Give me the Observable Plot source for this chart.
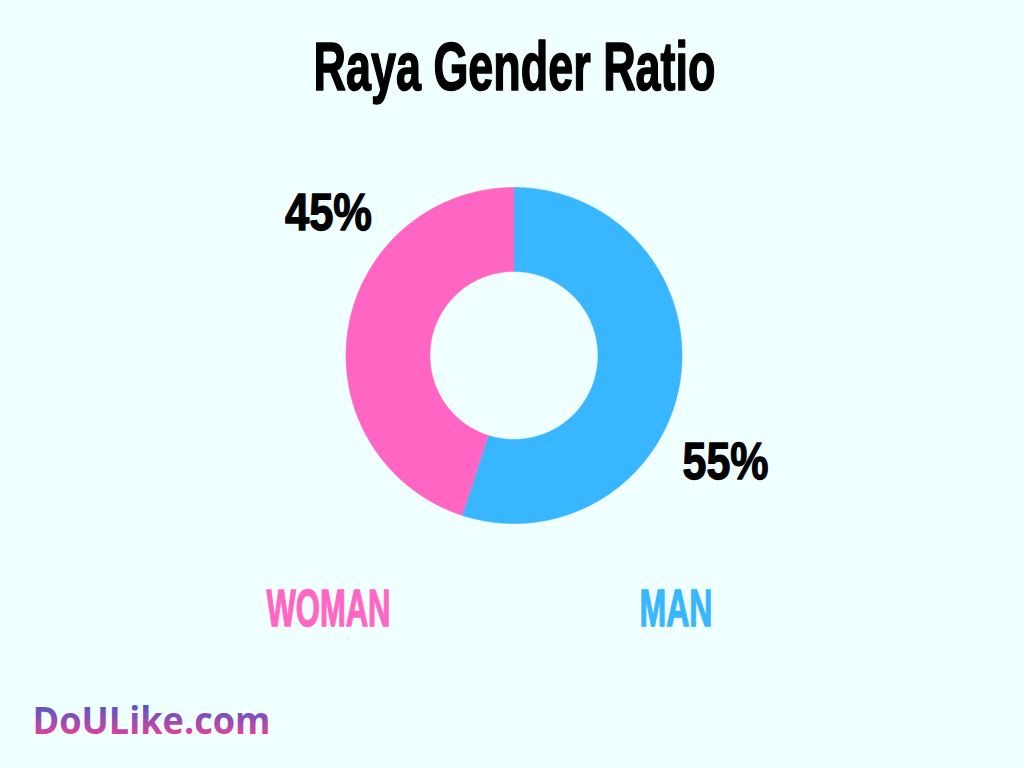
<!DOCTYPE html>
<html>
<head>
<meta charset="utf-8">
<script src="https://cdn.jsdelivr.net/npm/d3@7"></script>
<script src="https://cdn.jsdelivr.net/npm/@observablehq/plot@0.6"></script>
<style>
  html, body { margin: 0; padding: 0; background: #F0FFFF; }
  #chart { width: 1024px; height: 768px; }
</style>
</head>
<body>
<div id="chart"></div>
<script>
// ---- data ----
const categories = ["MAN", "WOMAN"];
const shares = [55, 45];
const shareLabels = ["55%", "45%"];
const colors = ["#38B6FF", "#FF66C4"];
const title = "Raya Gender Ratio";
const brand = "DoULike.com";

// ---- geometry (pixels in an identity-like scale) ----
const cx = 513.5, cy = 355, rOuter = 168, rInner = 84;

const pie = d3.pie().sort(null).value(d => d.value);
const arcs = pie(categories.map((c, i) => ({cat: c, value: shares[i]})));

// build each ring slice as a closed polygon following the pie angles
const pts = [];
for (const a of arcs) {
  const n = Math.max(8, Math.ceil((a.endAngle - a.startAngle) / 0.01));
  for (let k = 0; k <= n; k++) {
    const t = a.startAngle + (a.endAngle - a.startAngle) * k / n;
    pts.push({cat: a.data.cat, x: cx + Math.sin(t) * rOuter, y: cy - Math.cos(t) * rOuter});
  }
  for (let k = n; k >= 0; k--) {
    const t = a.startAngle + (a.endAngle - a.startAngle) * k / n;
    pts.push({cat: a.data.cat, x: cx + Math.sin(t) * rInner, y: cy - Math.cos(t) * rInner});
  }
}

const heavy = "'Liberation Sans', 'DejaVu Sans', Arial, sans-serif";

const chart = Plot.plot({
  width: 1024,
  height: 768,
  margin: 0,
  x: {domain: [0, 1024], range: [0, 1024], axis: null},
  y: {domain: [0, 768], range: [0, 768], axis: null},
  color: {domain: categories, range: colors},
  style: {background: "#F0FFFF", overflow: "visible"},
  marks: [
    Plot.line(pts, {x: "x", y: "y", z: "cat", fill: "cat", stroke: "cat", strokeWidth: 0.6, curve: "linear-closed"}),
    Plot.text([title], {x: 514, y: 67, text: d => d, fontSize: 69, fontWeight: "bold", fontFamily: heavy, fill: "#000", stroke: "#000", strokeWidth: 1.6}),
    Plot.text([shareLabels[1]], {x: 328, y: 213, text: d => d, fontSize: 51, fontWeight: "bold", fontFamily: heavy, fill: "#000", stroke: "#000", strokeWidth: 1.3}),
    Plot.text([shareLabels[0]], {x: 725, y: 462, text: d => d, fontSize: 51, fontWeight: "bold", fontFamily: heavy, fill: "#000", stroke: "#000", strokeWidth: 1.3}),
    Plot.text([categories[1]], {x: 328, y: 609, text: d => d, fontSize: 52, fontWeight: "bold", fontFamily: heavy, fill: colors[1], stroke: colors[1], strokeWidth: 1.3}),
    Plot.text([categories[0]], {x: 675.5, y: 609, text: d => d, fontSize: 52, fontWeight: "bold", fontFamily: heavy, fill: colors[0], stroke: colors[0], strokeWidth: 1.3}),
    Plot.text([brand], {x: 32, y: 721, text: d => d, textAnchor: "start", fontSize: 38, fontWeight: "bold", fontFamily: "'Open Sans', 'Noto Sans', sans-serif", fill: "#3B5BCF"})
  ]
});

// condensed look: fit each label to the width seen in the reference
const widths = {"Raya Gender Ratio": 402, "45%": 87, "55%": 86, "WOMAN": 124, "MAN": 73, "DoULike.com": 238};
const svg = d3.select(chart);
svg.selectAll("text").each(function() {
  const t = this.textContent;
  if (widths[t]) {
    this.setAttribute("textLength", widths[t]);
    this.setAttribute("lengthAdjust", "spacingAndGlyphs");
  }
});

// gradient for the brand mark
const defs = svg.insert("defs", ":first-child");
const g = defs.append("linearGradient").attr("id", "brandGrad").attr("x1", 0).attr("y1", 0).attr("x2", 0).attr("y2", 1);
g.append("stop").attr("offset", "0.15").attr("stop-color", "#3A5BD0");
g.append("stop").attr("offset", "0.85").attr("stop-color", "#E8409A");
svg.selectAll("text").filter(function() { return this.textContent === brand; }).attr("fill", "url(#brandGrad)");

document.getElementById("chart").appendChild(chart);
</script>
</body>
</html>
